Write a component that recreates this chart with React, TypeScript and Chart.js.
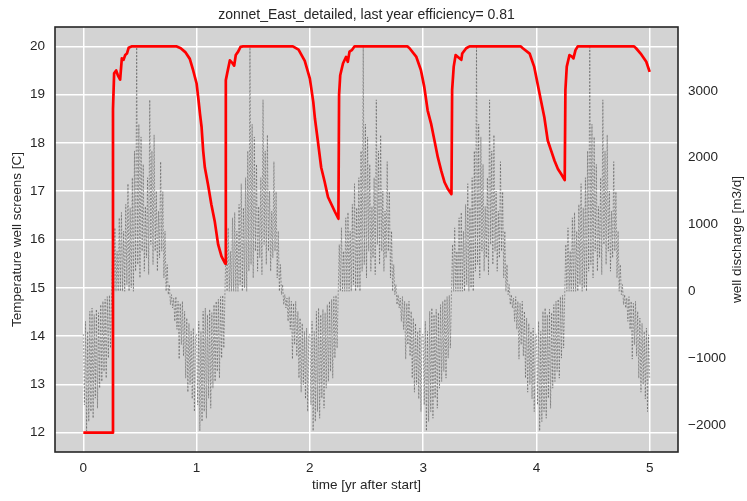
import React, { useEffect, useRef } from "react";
import { Chart, registerables } from "chart.js";

Chart.register(...registerables);

const TITLE = "zonnet_East_detailed, last year efficiency= 0.81";
const X_LABEL = "time [yr after start]";
const Y_LEFT_LABEL = "Temperature well screens [C]";
const Y_RIGHT_LABEL = "well discharge [m3/d]";

const xTicks = [0, 1, 2, 3, 4, 5];
const tempTicks = [12, 13, 14, 15, 16, 17, 18, 19, 20];
const dischargeTicks = [-2000, -1000, 0, 1000, 2000, 3000];

// Temperature of the well screens (red line)
const tempTime = [
  0, 0.258, 0.262, 0.272, 0.29, 0.305, 0.325, 0.34, 0.355, 0.37, 0.385, 0.4, 0.43,
  0.82, 0.86, 0.9, 0.94, 0.97, 1.0, 1.014, 1.03, 1.044, 1.058, 1.073, 1.1, 1.13, 1.16, 1.19, 1.22, 1.253,
  1.258, 1.27, 1.294, 1.317, 1.332, 1.346, 1.367, 1.388, 1.41,
  1.85, 1.9, 1.955, 2.0, 2.03, 2.045, 2.07, 2.1, 2.13, 2.16, 2.19, 2.22, 2.252,
  2.258, 2.268, 2.293, 2.32, 2.335, 2.35, 2.37, 2.395,
  2.86, 2.88, 2.94, 2.98, 3.01, 3.04, 3.07, 3.1, 3.13, 3.16, 3.19, 3.22, 3.25,
  3.256, 3.27, 3.287, 3.307, 3.337, 3.345, 3.38, 3.41,
  3.86, 3.88, 3.94, 3.98, 4.01, 4.04, 4.07, 4.1, 4.13, 4.16, 4.19, 4.22, 4.25,
  4.256, 4.268, 4.292, 4.316, 4.327, 4.345, 4.365,
  4.86, 4.88, 4.92, 4.97, 5.0,
];
const tempValue = [
  12, 12, 18.7, 19.44, 19.5, 19.4, 19.31, 19.75, 19.72, 19.82, 19.85, 19.97, 20,
  20, 19.96, 19.88, 19.74, 19.5, 19.23, 18.95, 18.6, 18.33, 17.84, 17.49, 17.15, 16.73, 16.38, 15.9, 15.65, 15.5,
  19.3, 19.44, 19.71, 19.65, 19.6, 19.82, 19.89, 19.99, 20,
  20, 19.93, 19.7, 19.33, 18.85, 18.5, 18.05, 17.49, 17.2, 16.88, 16.73, 16.58, 16.43,
  19.0, 19.4, 19.65, 19.78, 19.68, 19.89, 19.92, 20,
  20, 19.96, 19.78, 19.51, 19.16, 18.67, 18.4, 18.05, 17.7, 17.42, 17.18, 17.04, 16.94,
  19.1, 19.58, 19.82, 19.78, 19.72, 19.85, 19.96, 20,
  20, 19.96, 19.85, 19.58, 19.23, 18.88, 18.53, 18.05, 17.84, 17.63, 17.46, 17.35, 17.23,
  19.1, 19.58, 19.82, 19.78, 19.75, 19.92, 20,
  20, 19.96, 19.85, 19.68, 19.47,
];

// Well discharge: the same yearly profile repeats each simulated year
const simulatedYears = 5;
const samplesPerYear = 104;
const dischargeYearProfile = [
  -640, -1700, -450, -2090, -600, -1950, -300, -1800, -250, -1900,
  -350, -1600, -270, -1750, -320, -1450, -200, -1350, -150, -1200,
  -120, -1300, -80, -1000, -60, -850, -50, 700, 0, 950,
  0, 600, 0, 1100, 0, 1180, 0, 900, 0, 1300,
  100, 1610, 0, 1250, 50, 1700, 0, 2100, 300, 3650,
  400, 2500, 200, 2310, 600, 1900, 300, 1270, 500, 1700,
  250, 2865, 700, 2100, 400, 2340, 600, 1500, 300, 1200,
  500, 1940, 600, 1490, 200, 900, 0, 400, -50, 100,
  -200, -50, -250, -100, -450, -80, -570, -150, -1015, -180,
  -800, -150, -970, -300, -1300, -400, -1510, -480, -1400, -600,
  -1610, -550, -1800, -650,
];
const dischargeEndValue = -1300;

const FONT = "'Liberation Sans', Arial, sans-serif";
const TEXT_COLOR = "#262626";

export default function App() {
  const ref = useRef<HTMLCanvasElement | null>(null);

  useEffect(() => {
    if (!ref.current) return;

    const tempData = tempTime.map((t, i) => ({ x: t, y: tempValue[i] }));
    const dischargeData: { x: number; y: number }[] = [];
    for (let yr = 0; yr < simulatedYears; yr++) {
      dischargeYearProfile.forEach((v, i) => {
        dischargeData.push({ x: yr + i / samplesPerYear, y: v });
      });
    }
    dischargeData.push({ x: simulatedYears, y: dischargeEndValue });

    const decor = {
      id: "decor",
      beforeDraw(chart: any) {
        const { ctx, chartArea: a } = chart;
        ctx.save();
        ctx.fillStyle = "#ffffff";
        ctx.fillRect(0, 0, chart.width, chart.height);
        ctx.fillStyle = "#d3d3d3";
        ctx.fillRect(a.left, a.top, a.right - a.left, a.bottom - a.top);
        ctx.restore();
      },
      afterDraw(chart: any) {
        const { ctx, chartArea: a } = chart;
        ctx.save();
        ctx.strokeStyle = "#262626";
        ctx.lineWidth = 1.6;
        ctx.strokeRect(a.left, a.top, a.right - a.left, a.bottom - a.top);
        ctx.fillStyle = TEXT_COLOR;
        ctx.font = `14px ${FONT}`;
        ctx.textAlign = "center";
        ctx.textBaseline = "middle";
        ctx.fillText(TITLE, (a.left + a.right) / 2, 15);
        ctx.font = `13.5px ${FONT}`;
        ctx.translate(737, (a.top + a.bottom) / 2);
        ctx.rotate(-Math.PI / 2);
        ctx.fillText(Y_RIGHT_LABEL, 0, 0);
        ctx.restore();
      },
    };

    const tickFont = { family: FONT, size: 13.5 };

    const chart = new Chart(ref.current, {
      type: "line",
      data: {
        datasets: [
          {
            label: "temperature",
            data: tempData,
            yAxisID: "y",
            borderColor: "#ff0000",
            borderWidth: 2.7,
            pointRadius: 0,
            tension: 0,
            borderJoinStyle: "round",
          },
          {
            label: "discharge",
            data: dischargeData,
            yAxisID: "y2",
            borderColor: "rgba(70,70,70,0.6)",
            borderWidth: 0.8,
            borderDash: [2, 1.5],
            pointRadius: 0,
            tension: 0,
          },
        ],
      },
      options: {
        responsive: false,
        animation: false,
        events: [],
        layout: { padding: { top: 27, left: 0, right: 0, bottom: 0 } },
        plugins: {
          legend: { display: false },
          tooltip: { enabled: false },
          title: { display: false },
        },
        scales: {
          x: {
            type: "linear",
            min: -0.25,
            max: 5.25,
            afterBuildTicks: (axis: any) => {
              axis.ticks = xTicks.map((v) => ({ value: v }));
            },
            afterFit: (scale: any) => {
              scale.height = 49;
            },
            grid: { color: "#ffffff", lineWidth: 1.5, drawTicks: false },
            border: { display: false },
            ticks: {
              padding: 8,
              font: tickFont,
              color: TEXT_COLOR,
              maxRotation: 0,
              callback: (v: any) => String(v),
            },
            title: {
              display: true,
              text: X_LABEL,
              font: tickFont,
              color: TEXT_COLOR,
              padding: { top: 0, bottom: 8 },
            },
          },
          y: {
            type: "linear",
            position: "left",
            min: 11.6,
            max: 20.4,
            afterBuildTicks: (axis: any) => {
              axis.ticks = tempTicks.map((v) => ({ value: v }));
            },
            afterFit: (scale: any) => {
              scale.width = 55;
            },
            grid: { color: "#ffffff", lineWidth: 1.5, drawTicks: false },
            border: { display: false },
            ticks: {
              padding: 10,
              font: tickFont,
              color: TEXT_COLOR,
              callback: (v: any) => String(v),
            },
            title: {
              display: true,
              text: Y_LEFT_LABEL,
              font: tickFont,
              color: TEXT_COLOR,
              padding: { top: 9.5, bottom: 0 },
            },
          },
          y2: {
            type: "linear",
            position: "right",
            min: -2405,
            max: 3955,
            afterBuildTicks: (axis: any) => {
              axis.ticks = dischargeTicks.map((v) => ({ value: v }));
            },
            afterFit: (scale: any) => {
              scale.width = 69;
            },
            grid: { display: false, drawTicks: false },
            border: { display: false },
            ticks: {
              padding: 10,
              font: tickFont,
              color: TEXT_COLOR,
              callback: (v: any) => String(v).replace("-", "\u2212"),
            },
          },
        },
      },
      plugins: [decor],
    } as any);

    return () => chart.destroy();
  }, []);

  return (
    <div style={{ position: "absolute", left: 0, top: 0, width: 747, height: 501 }}>
      <canvas ref={ref} width={747} height={501} style={{ display: "block" }} />
    </div>
  );
}
